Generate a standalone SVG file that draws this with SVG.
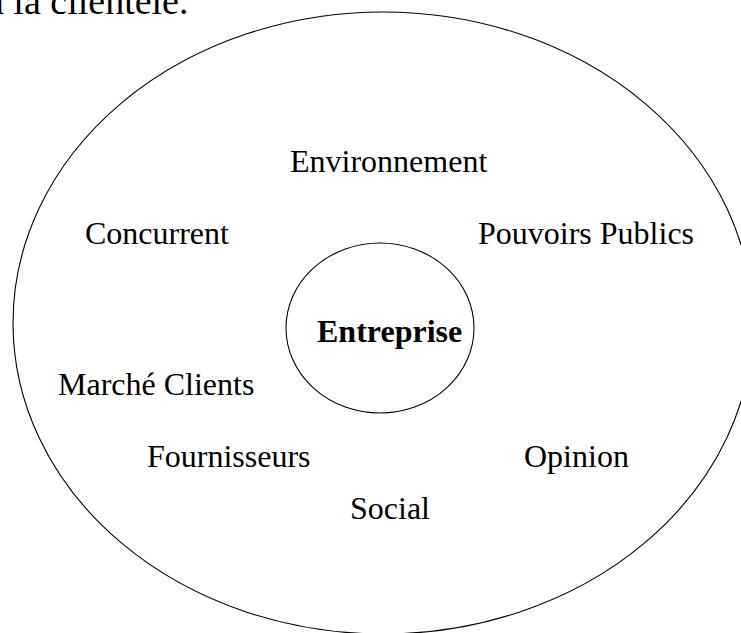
<svg xmlns="http://www.w3.org/2000/svg" width="741" height="633" viewBox="0 0 741 633">
<style>
.t{font-family:"Liberation Serif","Times New Roman",serif;font-size:32px;fill:#000}
.b{font-weight:bold}
.ring{fill:none;stroke:#000;stroke-width:1.1}
</style>
<rect width="741" height="633" fill="#fff"/>
<text class="t" x="-13" y="14" style="font-size:38px">à la clientèle.</text>
<g id="environment">
<ellipse class="ring" cx="383" cy="323" rx="370" ry="311"/>
</g>
<g id="entreprise">
<ellipse class="ring" cx="380" cy="328" rx="94" ry="85"/>
<text class="t b" x="317" y="342">Entreprise</text>
</g>
<g id="connectors"></g>
<g id="n-environnement"><text class="t" x="290" y="172">Environnement</text></g>
<g id="n-concurrent"><text class="t" x="85" y="244">Concurrent</text></g>
<g id="n-pouvoirs"><text class="t" x="478" y="244">Pouvoirs Publics</text></g>
<g id="n-marche"><text class="t" x="58" y="395">Marché Clients</text></g>
<g id="n-fournisseurs"><text class="t" x="147" y="467">Fournisseurs</text></g>
<g id="n-opinion"><text class="t" x="524" y="467">Opinion</text></g>
<g id="n-social"><text class="t" x="350" y="519">Social</text></g>
</svg>
